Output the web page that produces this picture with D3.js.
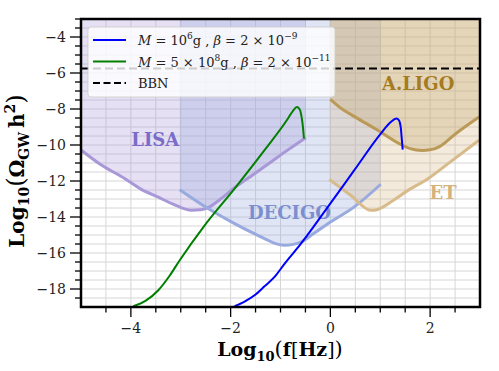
<!DOCTYPE html>
<html>
<head>
<meta charset="utf-8">
<script src="https://cdn.jsdelivr.net/npm/d3@7"></script>
<style>
    body { margin: 0; background: #fff; }
</style>
</head>
<body>
<svg id="chart" width="499" height="371"></svg>
<script>
// curves: [log10 f, log10 Omega h^2]
const lisaCurve = [[-5.0, -10.28], [-4.6, -11.1], [-4.12, -11.87], [-3.8, -12.45], [-3.45, -12.9], [-3.1, -13.35],
    [-2.79, -13.62], [-2.6, -13.6], [-2.45, -13.48], [-2.2, -13.0], [-1.92, -12.37], [-1.55, -11.65], [-1.19, -10.94],
    [-0.85, -10.27], [-0.49, -9.59]];
const decigoCurve = [[-3.02, -12.48], [-2.45, -13.53], [-1.92, -14.37], [-1.32, -15.2], [-1.1, -15.48], [-0.92, -15.57],
    [-0.75, -15.52], [-0.59, -15.39], [-0.35, -14.95], [-0.05, -14.37], [0.48, -13.44], [1.01, -12.18]];
const aligoCurve = [[0.0, -7.46], [0.21, -7.95], [0.5, -8.45], [0.95, -9.18], [1.38, -9.92], [1.6, -10.2], [1.84, -10.3],
    [2.0, -10.27], [2.18, -10.1], [2.5, -9.4], [2.98, -8.45]];
const etCurve = [[-0.02, -11.92], [0.4, -12.78], [0.81, -13.63], [0.95, -13.58], [1.25, -13.1], [1.58, -12.48],
    [1.91, -11.96], [2.4, -10.95], [2.98, -9.74]];

const pbh1Curve = [[-1.92, -18.96], [-1.72, -18.7], [-1.52, -18.35], [-1.32, -17.85], [-1.12, -17.33], [-0.92, -16.6],
    [-0.59, -15.48], [-0.05, -13.44], [0.48, -11.4], [1.01, -9.37], [1.2, -8.75], [1.33, -8.53], [1.38, -8.65],
    [1.41, -9.0], [1.43, -9.6], [1.45, -10.26]];
const pbh2Curve = [[-3.95, -18.96], [-3.7, -18.65], [-3.45, -18.07], [-3.22, -17.25], [-3.02, -16.4], [-2.52, -14.46],
    [-1.92, -12.42], [-1.32, -10.29], [-0.85, -8.53], [-0.75, -8.1], [-0.67, -7.89], [-0.61, -8.05], [-0.58, -8.4],
    [-0.55, -9.0], [-0.53, -9.64]];
const bbnLevel = -5.75;

const detectors = ['LISA', 'DECIGO', 'A.LIGO', 'ET'];
const detectorCurves = [lisaCurve, decigoCurve, aligoCurve, etCurve];
const detectorColors = ['#a898d8', '#98aade', '#bb9a58', '#d8bb8a'];
const labelColors = ['#7a6cc8', '#7b8fd0', '#a67b1f', '#d5b27c'];
const labelPos = [[-3.51, -9.7], [-0.82, -13.75], [1.76, -6.62], [2.26, -12.67]];

const xMajor = [-4, -2, 0, 2];
const yMajor = [-18, -16, -14, -12, -10, -8, -6, -4];
const xLabels = ['\u22124', '\u22122', '0', '2'];
const yLabels = ['\u221218', '\u221216', '\u221214', '\u221212', '\u221210', '\u22128', '\u22126', '\u22124'];

const serif = 'DejaVu Serif';
const config = {
    left: 81,
    right: 480,
    top: 19,
    bottom: 307
};

let svg = d3.select('#chart');

let x = d3.scaleLinear().domain([-5, 3]).range([config.left, config.right]);
let y = d3.scaleLinear().domain([-19, -3]).range([config.bottom, config.top]);

svg.append('clipPath').attr('id', 'clip')
    .append('rect')
    .attr('x', config.left).attr('y', config.top)
    .attr('width', config.right - config.left).attr('height', config.bottom - config.top);

let plot = svg.append('g').attr('clip-path', 'url(#clip)');

// grid, every half unit
const xMinor = d3.range(-5, 3.01, 0.5);
const yMinor = d3.range(-19, -2.99, 0.5);
plot.selectAll('.vgrid').data(xMinor).enter().append('line')
    .attr('x1', d => x(d)).attr('x2', d => x(d))
    .attr('y1', config.top).attr('y2', config.bottom)
    .style('stroke', '#d6d6d6').style('stroke-width', 1);
plot.selectAll('.hgrid').data(yMinor).enter().append('line')
    .attr('x1', config.left).attr('x2', config.right)
    .attr('y1', d => y(d)).attr('y2', d => y(d))
    .style('stroke', '#d6d6d6').style('stroke-width', 1);

// sensitivity regions
const area = d3.area()
    .x(d => x(d[0]))
    .y0(y(-3))
    .y1(d => y(d[1]))
    .curve(d3.curveMonotoneX);
const line = d3.line()
    .x(d => x(d[0]))
    .y(d => y(d[1]))
    .curve(d3.curveMonotoneX);

detectorCurves.forEach((c, i) => {
    plot.append('path').attr('d', area(c))
        .style('fill', detectorColors[i]).style('fill-opacity', 0.3).style('stroke', 'none');
});
detectorCurves.forEach((c, i) => {
    plot.append('path').attr('d', line(c))
        .style('fill', 'none').style('stroke', detectorColors[i]).style('stroke-width', 3);
});
detectors.forEach((name, i) => {
    plot.append('text')
        .attr('x', x(labelPos[i][0])).attr('y', y(labelPos[i][1]))
        .attr('text-anchor', 'middle')
        .attr('dy', '0.35em')
        .attr('font-family', serif)
        .style('font-size', '18px').style('font-weight', 'bold')
        .style('fill', labelColors[i])
        .text(name);
});

// BBN bound
plot.append('line')
    .attr('x1', x(-5)).attr('x2', x(3))
    .attr('y1', y(bbnLevel)).attr('y2', y(bbnLevel))
    .style('stroke', 'black').style('stroke-width', 2).style('stroke-dasharray', '8,4');

// PBH spectra
plot.append('path').attr('d', line(pbh2Curve))
    .style('fill', 'none').style('stroke', 'green').style('stroke-width', 2);
plot.append('path').attr('d', line(pbh1Curve))
    .style('fill', 'none').style('stroke', 'blue').style('stroke-width', 2);

// ticks
let axes = svg.append('g').style('stroke', 'black').style('stroke-width', 1.3);
axes.selectAll('.xt').data(xMinor.filter(d => d > -5 && d < 3)).enter().append('line')
    .attr('x1', d => x(d)).attr('x2', d => x(d))
    .attr('y1', config.bottom).attr('y2', d => config.bottom + (d % 2 === 0 ? 10 : 5.5));
axes.selectAll('.yt').data(yMinor.filter(d => d > -19)).enter().append('line')
    .attr('y1', d => y(d)).attr('y2', d => y(d))
    .attr('x1', config.left).attr('x2', d => config.left - (d % 2 === 0 ? 11 : 6));

svg.selectAll('.xl').data(xMajor).enter().append('text')
    .attr('x', d => x(d)).attr('y', 333)
    .attr('text-anchor', 'middle')
    .attr('font-family', serif)
    .style('font-size', '14px').style('fill', '#222')
    .text((d, i) => xLabels[i]);
svg.selectAll('.yl').data(yMajor).enter().append('text')
    .attr('x', 66).attr('y', d => y(d))
    .attr('dy', '0.36em')
    .attr('text-anchor', 'end')
    .attr('font-family', serif)
    .style('font-size', '14px').style('fill', '#222')
    .text((d, i) => yLabels[i]);

// frame
svg.append('rect')
    .attr('x', config.left).attr('y', config.top)
    .attr('width', config.right - config.left).attr('height', config.bottom - config.top)
    .style('fill', 'none').style('stroke', 'black').style('stroke-width', 2.5);

// axis titles
let xt = svg.append('text').attr('x', 280).attr('y', 356).attr('text-anchor', 'middle')
    .attr('font-family', serif)
    .style('font-size', '19px').style('font-weight', 'bold');
xt.append('tspan').text('Log');
xt.append('tspan').attr('dy', 5).style('font-size', '13px').text('10');
xt.append('tspan').attr('dy', -5).style('font-weight', 'normal').style('font-size', '21px').text('(');
xt.append('tspan').text('f');
xt.append('tspan').style('font-weight', 'normal').text('[');
xt.append('tspan').text('Hz');
xt.append('tspan').style('font-weight', 'normal').text(']');
xt.append('tspan').style('font-weight', 'normal').style('font-size', '21px').text(')');

let yt = svg.append('text').attr('transform', 'translate(23.5,171) rotate(-90)').attr('text-anchor', 'middle')
    .attr('font-family', serif)
    .style('font-size', '20px').style('font-weight', 'bold');
yt.append('tspan').text('Log');
yt.append('tspan').attr('dy', 5).style('font-size', '14px').text('10');
yt.append('tspan').attr('dy', -5).style('font-weight', 'normal').style('font-size', '24px').text('(');
yt.append('tspan').text('\u03a9');
yt.append('tspan').attr('dy', 5).style('font-size', '14px').text('GW');
yt.append('tspan').attr('dy', -5).text('\u2009h');
yt.append('tspan').attr('dy', -9).style('font-size', '14px').text('2');
yt.append('tspan').attr('dy', 9).style('font-weight', 'normal').style('font-size', '24px').text(')');

// legend
let legend = svg.append('g');
legend.append('rect')
    .attr('x', 88).attr('y', 27).attr('width', 247).attr('height', 70).attr('rx', 3)
    .style('fill', 'white').style('fill-opacity', 0.8)
    .style('stroke', '#cccccc').style('stroke-opacity', 0.8);

const legendRows = [
    { color: 'blue', dash: null, mass: ['10', '6'], beta: '\u22129' },
    { color: 'green', dash: null, mass: ['5 \u00d7 10', '8'], beta: '\u221211' },
    { color: 'black', dash: '7,3.5', name: 'BBN' }
];
legendRows.forEach((r, i) => {
    let ly = 40 + i * 21.5;
    legend.append('line')
        .attr('x1', 93).attr('x2', 126).attr('y1', ly).attr('y2', ly)
        .style('stroke', r.color).style('stroke-width', 2)
        .style('stroke-dasharray', r.dash);
    let t = legend.append('text').attr('x', 138).attr('y', ly + 5)
        .attr('font-family', serif)
        .style('font-size', '13px').style('fill', '#222');
    if (r.name) {
        t.text(r.name);
        return;
    }
    t.append('tspan').style('font-style', 'italic').text('M');
    t.append('tspan').text(' = ' + r.mass[0]);
    t.append('tspan').attr('dy', -6).style('font-size', '9px').text(r.mass[1]);
    t.append('tspan').attr('dy', 6).text('g , ');
    t.append('tspan').style('font-style', 'italic').text('\u03b2');
    t.append('tspan').text(' = 2 \u00d7 10');
    t.append('tspan').attr('dy', -6).style('font-size', '9px').text(r.beta);
});
</script>
</body>
</html>
